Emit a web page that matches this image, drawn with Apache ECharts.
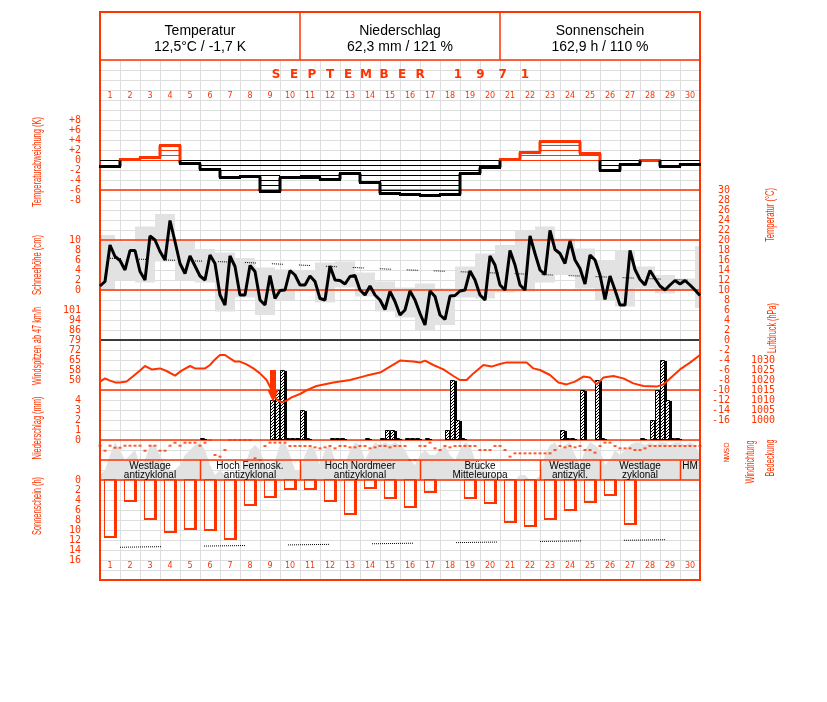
<!DOCTYPE html>
<html><head><meta charset="utf-8">
<script src="https://cdn.jsdelivr.net/npm/echarts/dist/echarts.min.js"></script>
<style>html,body{margin:0;padding:0;background:#fff}#c{width:827px;height:702px}</style>
</head><body><div id="c"></div>
<script>
// ---------------- DATA ----------------
const days = ['1','2','3','4','5','6','7','8','9','10','11','12','13','14','15','16','17','18','19','20','21','22','23','24','25','26','27','28','29','30'];
// daily temperature deviation (K)
const tempDev = [-1.1,0.2,0.7,3.0,-0.6,-1.7,-3.3,-3.2,-6.2,-3.3,-3.4,-3.8,-2.5,-4.3,-6.5,-6.7,-7.0,-6.7,-2.5,-1.4,0.2,1.7,3.8,3.8,1.5,-1.9,-0.7,0.1,-1.2,-0.7];
// 6-hourly temperature (°C), from Sept 1 00h to Oct 1 00h
const temp6h = [10.8,11.7,19,16.7,15.9,14,17.9,17.9,13.7,12,20.8,20,17.7,16,23.9,19.7,15.3,13.3,16.8,14.8,12.8,12,17,15.3,9,7,16.8,14.7,9,9,14.9,13.7,8,7,12.9,8.3,9.9,10,13.9,13,11,11,12.8,11.7,8.3,8,14.8,12,11.9,11.2,12.7,12.9,10,9,10.8,9,8,6.1,9.7,7.7,5,6,9.8,8,5.3,3,9.8,8.7,5,4.1,8.8,8.9,9.8,10,13.8,12,9,8,16.8,15,11,10,17.9,15,11,10,20.8,17.3,14,13.1,21.9,18.1,17.3,15.3,19.8,16,14.3,11.2,17,16,13,8.1,12.8,10,7,7,17.9,14.1,12.1,11,13.9,12.3,10.8,10,11,11.9,11.2,11.9,11,10,8.9];
// daily extremes (18h to 18h blocks)
const blockStart = [0,0.75,1.75,2.75,3.75,4.75,5.75,6.75,7.75,8.75,9.75,10.75,11.75,12.75,13.75,14.75,15.75,16.75,17.75,18.75,19.75,20.75,21.75,22.75,23.75,24.75,25.75,26.75,27.75,28.75,29.75];
const blockEnd   = [0.75,1.75,2.75,3.75,4.75,5.75,6.75,7.75,8.75,9.75,10.75,11.75,12.75,13.75,14.75,15.75,16.75,17.75,18.75,19.75,20.75,21.75,22.75,23.75,24.75,25.75,26.75,27.75,28.75,29.75,30];
const tMax = [21,19.7,22.7,25.2,20,18.2,17.5,16.4,14.5,14.1,14,15.5,15.7,13.5,11.7,10.5,11.3,10.3,14.7,17.3,19,21.9,22.7,20.3,18.3,16,18,14.7,13,12.3,18.8];
const tMin = [10,12,11.5,15.7,12,11.5,5.7,8.5,5,8,10,7.5,10.5,8.7,5.7,4.5,2,3,8.5,8.3,9.5,9.7,11.5,13,10.3,8,6.7,10.3,9.3,10,6.4];
// climatological mean temperature
const climDay = [0.5,7.25,14.8,22.6,29.9];
const climT = [16.35,15.5,14.1,13.0,11.9];
// air pressure (hPa)
const pressDay = [0,0.25,0.5,0.75,1,1.33,1.67,2,2.25,2.58,3,3.33,3.75,4.08,4.5,4.75,5.25,5.5,5.75,6,6.25,6.5,6.75,7,7.33,7.67,8,8.33,8.58,8.83,9.08,9.33,9.58,10,10.42,10.83,11.67,12.5,13.33,14,14.5,15,15.67,16,16.25,16.67,17.17,17.67,18,18.33,18.67,19.17,19.58,20,20.33,21.33,21.67,22,22.5,22.92,23.33,23.75,24.17,24.5,24.83,25.17,25.67,26.17,26.67,27.17,27.83,28.17,28.5,29,29.5,30];
const pressHpa = [1019.2,1020.8,1019.7,1018.8,1018.8,1019.2,1022,1024.7,1027,1025.3,1025.8,1024.5,1022.2,1024.7,1027,1025.8,1025.8,1027.5,1030.3,1032.5,1032.5,1030.8,1029.2,1029.2,1027.8,1025.8,1023.3,1020,1015,1010.3,1008.8,1009.7,1011.3,1013,1015.3,1017,1018.7,1020,1022.2,1023.7,1026.7,1029.7,1029.2,1028.7,1029.7,1027.5,1025.3,1022,1020,1020,1023.3,1027.5,1026.7,1028,1028.8,1028.8,1025.8,1025,1022.5,1018.7,1017.8,1019.2,1021.7,1021.3,1017.8,1021.2,1022,1020.8,1018.3,1017,1016.7,1017.8,1020.8,1025.3,1028.7,1032.5];
// front marker (arrow)
const frontDay = [8.65];
const frontTopHpa = [1025];
const frontMidHpa = [1015];
const frontTipHpa = [1009];
// 6-hourly precipitation (start of interval in days, mm)
const precipDay = [5.0,8.5,8.75,9.0,9.25,9.5,9.75,10.0,10.25,11.5,11.75,12.0,13.25,14.0,14.25,14.5,14.75,15.25,15.5,15.75,16.25,17.25,17.5,17.75,18.0,23.0,23.25,23.5,24.0,24.75,25.0,27.0,27.5,27.75,28.0,28.25,28.5,28.75];
const precipMm  = [0.2,4.0,5.0,7.0,0.2,0.2,0.2,3.0,0.2,0.2,0.2,0.2,0.2,0.2,1.0,1.0,0.2,0.2,0.2,0.2,0.2,1.0,6.0,2.0,0.2,1.0,0.2,0.2,5.0,6.0,0.2,0.2,2.0,5.0,8.0,4.0,0.2,0.2];
// 6-hourly wind direction (degrees)
const windDeg = [103,193,103,139,139,103,103,103,103,193,103,103,193,193,103,49,103,49,49,49,103,49,0,270,300,180,0,0,0,0,0,330,360,108,48,48,48,48,108,108,108,108,108,132,150,132,108,150,108,108,132,132,108,108,150,132,108,108,132,108,108,108,360,360,108,108,48,150,180,108,132,108,108,108,108,108,180,180,180,108,108,180,300,240,240,240,240,240,240,240,240,180,108,132,108,132,108,180,180,228,108,48,48,108,150,150,150,180,180,150,108,108,108,108,108,108,108,108,108,108,108];
// 6-hourly cloud cover (octas)
const cloudOcta = [1,2,5,7.5,6,4,5,6,3,4,7,7,5,3,2,2,3,5,6,7,7.5,6,3,1,2,1,0,0,1,3,6,7,6,3,1,4,7,7.5,5,2,2,5,7,6,3,6,7,4,2,3,6,7.5,7,4,6,7.5,7,7.5,7,7.5,7,6,4,3,5,6,5,5,6,7,5,4,6,7.5,7,4,3,2,1,1,0,0,0,0,1,1,0,0,1,5,7,7.5,6,7,7.5,5,3,6,7.5,7,6,3,4,6,5,6,7,7.5,7.5,7,7.5,7,7.5,7.5,7,7.5,7.5,7,7.5,7,5];
// daily sunshine (h)
const sunHours = [11.5,4.3,8.0,10.5,9.9,10.1,12.0,5.2,3.6,2.0,2.0,4.4,7.0,1.8,3.8,5.6,2.6,0,3.8,4.8,8.6,9.4,8.0,6.2,4.6,3.2,9.0,0,0,0];
// astronomically possible sunshine (h)
const sunPossDay = [1.0,30.0];
const sunPossH = [13.45,11.85];
// weather types
const wxLine1 = ['Westlage','Hoch Fennosk.','Hoch Nordmeer','Brücke','Westlage','Westlage','HM'];
const wxLine2 = ['antizyklonal','antizyklonal','antizyklonal','Mitteleuropa','antizykl.','zyklonal',''];
const wxStart = [0,5,10,16,22,25,29];
const wxEnd   = [5,10,16,22,25,29,30];
// tick labels
const windPeakLabels = ['50','58','65','72','79','86','94','101'];
const windDirLabels = {0:'N',90:'O',180:'S',270:'W',360:'N'};
const headTitles = ['Temperatur','Niederschlag','Sonnenschein'];
const headValues = ['12,5°C / -1,7 K','62,3 mm / 121 %','162,9 h / 110 %'];
const monthTitle = 'SEPTEMBER';
const yearTitle = '1971';

// ---------------- STYLE ----------------
const RED = '#ff3300';
const GRIDC = '#dedede';
const GRAY = '#e2e2e2';
const LBL = {color: RED, fontFamily: 'DejaVu Sans Mono', fontSize: 10};

const hatchCanvas = (function(){
  const c = document.createElement('canvas'); c.width = 3; c.height = 3;
  const g = c.getContext('2d'); g.fillStyle = '#fff'; g.fillRect(0,0,3,3);
  g.fillStyle = '#000'; for (let k=0;k<3;k++) g.fillRect(k,2-k,1,1);
  return c;
})();
const hatch = {image: hatchCanvas, repeat: 'repeat'};

const mctx = document.createElement('canvas').getContext('2d');
function vtext(str, cx, cy, len, size, color){
  const font = size + 'px "Liberation Sans"';
  mctx.font = font; const w = mctx.measureText(str).width;
  return {type:'text', x: cx, y: cy, rotation: Math.PI/2, scaleX: len / w, scaleY: 1, z: 10,
    style: {text: str, font: font, fill: color, align: 'center', verticalAlign: 'middle'}};
}

// ---------------- RENDERERS ----------------
function renderDev(params, api){
  const i = api.value(0), v = api.value(1), pv = api.value(2);
  const xa = Math.round(api.coord([i,0])[0]), xb = Math.round(api.coord([i+1,0])[0]);
  const Y = val => api.coord([i, val])[1];
  const col = v >= 0 ? RED : '#000';
  const s = v >= 0 ? 1 : -1;
  const ch = [];
  for (let k = 0; k < Math.abs(v) - 0.3; k++) {
    const y = Math.round(Y(s*k)) + 0.5;
    ch.push({type:'line', shape:{x1:xa,y1:y,x2:xb,y2:y}, style:{stroke:col,lineWidth:1}});
  }
  const yv = Math.round(Y(v)) + 0.5;
  ch.push({type:'line', shape:{x1:xa-1,y1:yv,x2:xb+1,y2:yv}, style:{stroke:col,lineWidth:3}});
  if (i > 0 && pv !== v) {
    const lo = Math.min(pv,v), hi = Math.max(pv,v);
    if (hi > 0) ch.push({type:'line', shape:{x1:xa,y1:Math.round(Y(Math.max(lo,0)))+0.5,x2:xa,y2:Math.round(Y(hi))+0.5}, style:{stroke:RED,lineWidth:3}});
    if (lo < 0) ch.push({type:'line', shape:{x1:xa,y1:Math.round(Y(lo))+0.5,x2:xa,y2:Math.round(Y(Math.min(hi,0)))+0.5}, style:{stroke:'#000',lineWidth:3}});
  }
  return {type:'group', children: ch};
}
function renderBlock(params, api){
  const a = api.coord([api.value(0), api.value(2)]);
  const b = api.coord([api.value(1), api.value(3)]);
  return {type:'rect', shape:{x:a[0], y:a[1], width:b[0]-a[0], height:b[1]-a[1]}, style:{fill:GRAY}};
}
function renderPrecip(params, api){
  const t = api.value(0), mm = api.value(1);
  const x0 = Math.round(api.coord([t,0])[0]), x1 = Math.round(api.coord([t+0.25,0])[0]);
  const yb = Math.round(api.coord([t,0])[1]), yt = Math.round(api.coord([t,mm])[1]);
  return {type:'group', children:[
    {type:'rect', shape:{x:x1-1, y:yt+1, width:3, height:yb-yt-1}, style:{fill:'#000'}},
    {type:'rect', shape:{x:x0+0.5, y:yt+0.5, width:x1-x0-1, height:Math.max(1,yb-yt-1)}, style:{fill:hatch, stroke:'#000', lineWidth:1}}
  ]};
}
function renderArrow(params, api){
  const t = api.value(0);
  const top = api.coord([t, api.value(1)]), mid = api.coord([t, api.value(2)]), tip = api.coord([t, api.value(3)]);
  const cx = top[0];
  return {type:'group', children:[
    {type:'rect', shape:{x:cx-3, y:top[1], width:6, height:mid[1]-top[1]}, style:{fill:RED}},
    {type:'polygon', shape:{points:[[cx-5.5,mid[1]],[cx+5.5,mid[1]],[cx,tip[1]]]}, style:{fill:RED}}
  ]};
}
function renderSun(params, api){
  const d = api.value(0), h = api.value(1);
  if (!h) return null;
  const x0 = Math.round(api.coord([d+0.22,0])[0]), x1 = Math.round(api.coord([d+0.85,0])[0]);
  const y0 = Math.round(api.coord([d,0])[1]), y1 = Math.round(api.coord([d,h])[1]);
  return {type:'group', children:[
    {type:'rect', shape:{x:x0+0.5, y:y0-0.5, width:x1-x0-2, height:y1-y0-1}, style:{fill:'none', stroke:RED, lineWidth:1}},
    {type:'rect', shape:{x:x1-3, y:y0, width:3, height:y1-y0}, style:{fill:RED}},
    {type:'rect', shape:{x:x0, y:y1-2, width:x1-x0, height:2}, style:{fill:RED}}
  ]};
}
function renderWx(params, api){
  const k = api.value(0);
  const a = api.coord([wxStart[k], 0])[0], b = api.coord([wxEnd[k], 0])[0];
  const cs = params.coordSys; const yTop = cs.y + 20, yBot = cs.y + cs.height;
  const cx = (a + b) / 2;
  const ch = [];
  ch.push({type:'text', x: cx, y: yTop + 6, style:{text: wxLine1[k], font:'10px "Liberation Sans"', fill:'#000', align:'center', verticalAlign:'middle'}});
  if (wxLine2[k]) ch.push({type:'text', x: cx, y: yTop + 15, style:{text: wxLine2[k], font:'10px "Liberation Sans"', fill:'#000', align:'center', verticalAlign:'middle'}});
  if (k > 0) ch.push({type:'line', shape:{x1:Math.round(a)+0.5, y1:yTop, x2:Math.round(a)+0.5, y2:yBot}, style:{stroke:RED, lineWidth:1.5}});
  return {type:'group', children: ch};
}

// ---------------- LAYOUT ----------------
const L = 100, W = 600;
function g(top, h){ return {left: L, width: W, top: top, height: h}; }
const grids = [g(60,520), g(110,90), g(190,230), g(240,50), g(310,70), g(340,100), g(440,40), g(480,80), g(88,2), g(558,2)];
const xAxes = grids.map((_, i) => ({gridIndex: i, type: 'value', min: 0, max: 30, interval: 1, show: i === 0,
  axisLine:{show:false}, axisTick:{show:false}, axisLabel:{show:false},
  splitLine:{show: i === 0, lineStyle:{color: GRIDC, width: 1}}}));
xAxes[8] = {gridIndex: 8, type: 'category', data: days, axisLine:{show:false}, axisTick:{show:false}, axisLabel:{color:RED, fontSize:8, fontFamily:'DejaVu Sans', margin:2, interval:0}};
xAxes[9] = {gridIndex: 9, type: 'category', data: days, axisLine:{show:false}, axisTick:{show:false}, axisLabel:{color:RED, fontSize:8, fontFamily:'DejaVu Sans', margin:2, interval:0}};
const noAx = {axisLine:{show:false}, axisTick:{show:false}, splitLine:{show:false}};
const yAxes = [
  {gridIndex:0, type:'value', min:0, max:52, interval:1, axisLine:{show:false}, axisTick:{show:false}, axisLabel:{show:false}, splitLine:{show:true, lineStyle:{color:GRIDC, width:1}}},
  Object.assign({gridIndex:1, type:'value', min:-8, max:10, interval:2, position:'left', axisLabel:Object.assign({margin:19, formatter: v => v === 10 ? '' : (v > 0 ? '+' + v : String(v))}, LBL)}, noAx),
  Object.assign({gridIndex:2, type:'value', min:-16, max:30, interval:2, position:'right', axisLabel:Object.assign({margin:30, align:'right'}, LBL)}, noAx),
  Object.assign({gridIndex:3, type:'value', min:0, max:10, interval:2, position:'left', axisLabel:Object.assign({margin:19}, LBL)}, noAx),
  Object.assign({gridIndex:4, type:'category', data: windPeakLabels, boundaryGap:false, position:'left', axisLabel:Object.assign({margin:19, interval:0}, LBL)}, noAx),
  Object.assign({gridIndex:5, type:'value', min:0, max:10, interval:1, position:'left', axisLabel:Object.assign({margin:19, formatter: v => v <= 4 ? String(v) : ''}, LBL)}, noAx),
  Object.assign({gridIndex:5, type:'value', min:990, max:1040, interval:5, position:'right', axisLabel:Object.assign({margin:75, align:'right', formatter: v => (v >= 1000 && v <= 1030) ? String(v) : ''}, LBL)}, noAx),
  Object.assign({gridIndex:6, type:'value', min:0, max:720, interval:90, inverse:true, position:'right', axisLabel:{margin:27, color:RED, fontSize:7, fontFamily:'DejaVu Sans', rotate:90, align:'center', verticalAlign:'middle', formatter: v => windDirLabels[v] || ''}}, noAx),
  Object.assign({gridIndex:6, type:'value', min:0, max:8, show:false}, noAx),
  Object.assign({gridIndex:7, type:'value', min:0, max:16, interval:2, inverse:true, position:'left', axisLabel:Object.assign({margin:19}, LBL)}, noAx),
  {gridIndex:8, type:'value', show:false},
  {gridIndex:9, type:'value', show:false}
];

// ---------------- GRAPHIC (frame, header, titles) ----------------
const gr = [];
function hline(y, col, w){ gr.push({type:'line', z:4, shape:{x1:L, y1:y, x2:L+W, y2:y}, style:{stroke:col, lineWidth:w}}); }
[60,190,240,290,390,440,460,480].forEach(y => hline(y, RED, 1.5));
hline(340, '#000', 1.5);
gr.push({type:'rect', z:4, shape:{x:L, y:12, width:W, height:568}, style:{fill:null, stroke:RED, lineWidth:2}});
gr.push({type:'line', z:4, shape:{x1:300, y1:12, x2:300, y2:60}, style:{stroke:RED, lineWidth:1.5}});
gr.push({type:'line', z:4, shape:{x1:500, y1:12, x2:500, y2:60}, style:{stroke:RED, lineWidth:1.5}});
headTitles.forEach((t, i) => {
  gr.push({type:'text', z:10, x:200 + 200*i, y:31, style:{text:t, font:'14px "Liberation Sans"', fill:'#000', align:'center', verticalAlign:'middle'}});
  gr.push({type:'text', z:10, x:200 + 200*i, y:47, style:{text:headValues[i], font:'14px "Liberation Sans"', fill:'#000', align:'center', verticalAlign:'middle'}});
});
(monthTitle.split('')).forEach((c, i) => gr.push({type:'text', z:10, x:276 + 18*i, y:75, style:{text:c, font:'bold 12px "DejaVu Sans"', fill:RED, align:'center', verticalAlign:'middle'}}));
(yearTitle.split('')).forEach((c, i) => gr.push({type:'text', z:10, x:458 + 22.3*i, y:75, style:{text:c, font:'bold 12px "DejaVu Sans"', fill:RED, align:'center', verticalAlign:'middle'}}));
gr.push(vtext('Temperaturabweichung (K)', 37, 162, 90, 13, RED));
gr.push(vtext('Schneehöhe (cm)', 37, 265, 60, 13, RED));
gr.push(vtext('Windspitzen ab 47 km/h', 37, 346, 78, 13, RED));
gr.push(vtext('Niederschlag (mm)', 37, 428, 63, 13, RED));
gr.push(vtext('Sonnenschein (h)', 37, 506, 58, 13, RED));
gr.push(vtext('Temperatur (°C)', 770, 215, 54, 13, RED));
gr.push(vtext('Luftdruck (hPa)', 772, 328, 50, 13, RED));
gr.push(vtext('Windrichtung', 750, 462, 43, 13, RED));
gr.push(vtext('Bedeckung', 770, 458, 37, 13, RED));

// ---------------- SERIES ----------------
const dash = (on, off) => { const a = []; for (let k = 0; k < on; k++) a.push(1, 1); a[a.length-1] = off; return a; };
const series = [
  {type:'line', xAxisIndex:6, yAxisIndex:8, z:1, silent:true, showSymbol:false, lineStyle:{width:0}, areaStyle:{color:GRAY, opacity:1},
    data: cloudOcta.map((v, i) => [i * 0.25, v])},
  {type:'custom', xAxisIndex:2, yAxisIndex:2, z:2, renderItem: renderBlock,
    data: blockStart.map((s, i) => [s, blockEnd[i], tMax[i], tMin[i]])},
  {type:'line', xAxisIndex:2, yAxisIndex:2, z:3, showSymbol:false, lineStyle:{color:'#000', width:1, type: dash(6, 16)},
    data: climDay.map((d, i) => [d, climT[i]])},
  {type:'line', xAxisIndex:2, yAxisIndex:2, z:6, showSymbol:false, lineStyle:{color:'#000', width:3}, data: temp6h.map((v, i) => [i * 0.25, v])},
  {type:'custom', xAxisIndex:1, yAxisIndex:1, z:6, renderItem: renderDev,
    data: tempDev.map((v, i) => [i, v, i ? tempDev[i-1] : v])},
  {type:'custom', xAxisIndex:5, yAxisIndex:5, z:5, renderItem: renderPrecip,
    data: precipDay.map((d, i) => [d, precipMm[i]])},
  {type:'line', xAxisIndex:5, yAxisIndex:6, z:6, showSymbol:false, lineStyle:{color:RED, width:2},
    data: pressDay.map((d, i) => [d, pressHpa[i]])},
  {type:'custom', xAxisIndex:5, yAxisIndex:6, z:7, renderItem: renderArrow,
    data: frontDay.map((d, i) => [d, frontTopHpa[i], frontMidHpa[i], frontTipHpa[i]])},
  {type:'scatter', xAxisIndex:6, yAxisIndex:7, z:6, symbol:'rect', symbolSize:[3,2], itemStyle:{color:RED},
    data: windDeg.map((v, i) => [i * 0.25, v])},
  {type:'custom', xAxisIndex:6, yAxisIndex:8, z:7, renderItem: renderWx, data: wxStart.map((s, i) => [i])},
  {type:'custom', xAxisIndex:7, yAxisIndex:9, z:5, renderItem: renderSun, data: sunHours.map((h, i) => [i, h])},
  {type:'line', xAxisIndex:7, yAxisIndex:9, z:6, showSymbol:false, lineStyle:{color:'#000', width:1, type: dash(21, 43)},
    data: sunPossDay.map((d, i) => [d, sunPossH[i]])}
];

const chart = echarts.init(document.getElementById('c'), null, {renderer:'canvas'});
chart.setOption({
  animation: false,
  backgroundColor: '#fff',
  textStyle: {fontFamily: 'Liberation Sans'},
  grid: grids, xAxis: xAxes, yAxis: yAxes,
  graphic: {elements: gr},
  series: series
});
</script>
</body></html>
